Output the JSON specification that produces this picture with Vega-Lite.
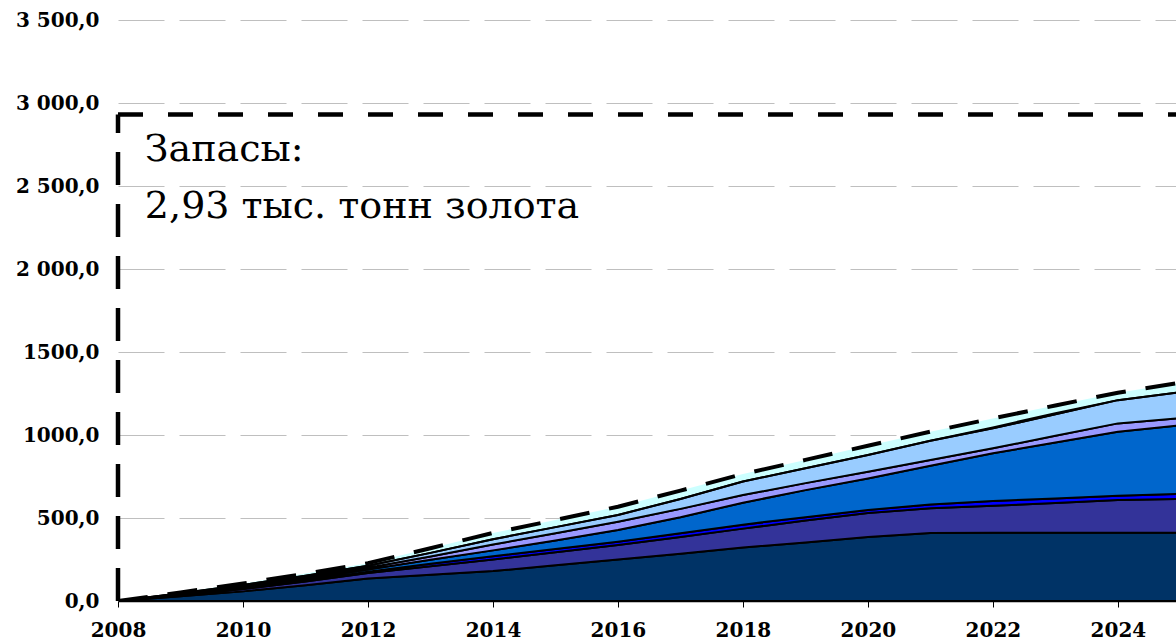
{
  "$schema": "https://vega.github.io/schema/vega-lite/v6.json",
  "width": 1058,
  "height": 581,
  "autosize": {"type": "none"},
  "padding": {"left": 118, "top": 20, "right": 0, "bottom": 41},
  "background": "white",
  "config": {"view": {"stroke": null}, "font": "DejaVu Serif"},
  "datasets": {
    "production": [
      {"year": 2008, "k": 1, "value": 0}, {"year": 2008, "k": 2, "value": 0}, {"year": 2008, "k": 3, "value": 0}, {"year": 2008, "k": 4, "value": 0}, {"year": 2008, "k": 5, "value": 0}, {"year": 2008, "k": 6, "value": 0}, {"year": 2008, "k": 7, "value": 0}, {"year": 2008, "k": 8, "value": 0},
      {"year": 2009, "k": 1, "value": 28}, {"year": 2009, "k": 2, "value": 6}, {"year": 2009, "k": 3, "value": 2}, {"year": 2009, "k": 4, "value": 4}, {"year": 2009, "k": 5, "value": 3}, {"year": 2009, "k": 6, "value": 4}, {"year": 2009, "k": 7, "value": 0}, {"year": 2009, "k": 8, "value": 5},
      {"year": 2010, "k": 1, "value": 58}, {"year": 2010, "k": 2, "value": 14}, {"year": 2010, "k": 3, "value": 4}, {"year": 2010, "k": 4, "value": 8}, {"year": 2010, "k": 5, "value": 6}, {"year": 2010, "k": 6, "value": 7}, {"year": 2010, "k": 7, "value": 0}, {"year": 2010, "k": 8, "value": 8},
      {"year": 2011, "k": 1, "value": 95}, {"year": 2011, "k": 2, "value": 23}, {"year": 2011, "k": 3, "value": 6}, {"year": 2011, "k": 4, "value": 10}, {"year": 2011, "k": 5, "value": 9}, {"year": 2011, "k": 6, "value": 9}, {"year": 2011, "k": 7, "value": 0}, {"year": 2011, "k": 8, "value": 13},
      {"year": 2012, "k": 1, "value": 135}, {"year": 2012, "k": 2, "value": 33}, {"year": 2012, "k": 3, "value": 8}, {"year": 2012, "k": 4, "value": 14}, {"year": 2012, "k": 5, "value": 10}, {"year": 2012, "k": 6, "value": 12}, {"year": 2012, "k": 7, "value": 0}, {"year": 2012, "k": 8, "value": 16},
      {"year": 2013, "k": 1, "value": 158}, {"year": 2013, "k": 2, "value": 52}, {"year": 2013, "k": 3, "value": 14}, {"year": 2013, "k": 4, "value": 24}, {"year": 2013, "k": 5, "value": 20}, {"year": 2013, "k": 6, "value": 22}, {"year": 2013, "k": 7, "value": 0}, {"year": 2013, "k": 8, "value": 28},
      {"year": 2014, "k": 1, "value": 180}, {"year": 2014, "k": 2, "value": 70}, {"year": 2014, "k": 3, "value": 20}, {"year": 2014, "k": 4, "value": 35}, {"year": 2014, "k": 5, "value": 35}, {"year": 2014, "k": 6, "value": 32}, {"year": 2014, "k": 7, "value": 0}, {"year": 2014, "k": 8, "value": 38},
      {"year": 2015, "k": 1, "value": 215}, {"year": 2015, "k": 2, "value": 78}, {"year": 2015, "k": 3, "value": 20}, {"year": 2015, "k": 4, "value": 52}, {"year": 2015, "k": 5, "value": 43}, {"year": 2015, "k": 6, "value": 37}, {"year": 2015, "k": 7, "value": 0}, {"year": 2015, "k": 8, "value": 43},
      {"year": 2016, "k": 1, "value": 250}, {"year": 2016, "k": 2, "value": 87}, {"year": 2016, "k": 3, "value": 20}, {"year": 2016, "k": 4, "value": 71}, {"year": 2016, "k": 5, "value": 50}, {"year": 2016, "k": 6, "value": 40}, {"year": 2016, "k": 7, "value": 0}, {"year": 2016, "k": 8, "value": 50},
      {"year": 2017, "k": 1, "value": 285}, {"year": 2017, "k": 2, "value": 100}, {"year": 2017, "k": 3, "value": 23}, {"year": 2017, "k": 4, "value": 97}, {"year": 2017, "k": 5, "value": 50}, {"year": 2017, "k": 6, "value": 60}, {"year": 2017, "k": 7, "value": 0}, {"year": 2017, "k": 8, "value": 50},
      {"year": 2018, "k": 1, "value": 322}, {"year": 2018, "k": 2, "value": 114}, {"year": 2018, "k": 3, "value": 24}, {"year": 2018, "k": 4, "value": 132}, {"year": 2018, "k": 5, "value": 46}, {"year": 2018, "k": 6, "value": 82}, {"year": 2018, "k": 7, "value": 0}, {"year": 2018, "k": 8, "value": 45},
      {"year": 2019, "k": 1, "value": 352}, {"year": 2019, "k": 2, "value": 133}, {"year": 2019, "k": 3, "value": 20}, {"year": 2019, "k": 4, "value": 163}, {"year": 2019, "k": 5, "value": 42}, {"year": 2019, "k": 6, "value": 90}, {"year": 2019, "k": 7, "value": 0}, {"year": 2019, "k": 8, "value": 50},
      {"year": 2020, "k": 1, "value": 385}, {"year": 2020, "k": 2, "value": 145}, {"year": 2020, "k": 3, "value": 18}, {"year": 2020, "k": 4, "value": 190}, {"year": 2020, "k": 5, "value": 41}, {"year": 2020, "k": 6, "value": 101}, {"year": 2020, "k": 7, "value": 0}, {"year": 2020, "k": 8, "value": 55},
      {"year": 2021, "k": 1, "value": 410}, {"year": 2021, "k": 2, "value": 148}, {"year": 2021, "k": 3, "value": 24}, {"year": 2021, "k": 4, "value": 233}, {"year": 2021, "k": 5, "value": 35}, {"year": 2021, "k": 6, "value": 115}, {"year": 2021, "k": 7, "value": 0}, {"year": 2021, "k": 8, "value": 55},
      {"year": 2022, "k": 1, "value": 411}, {"year": 2022, "k": 2, "value": 163}, {"year": 2022, "k": 3, "value": 28}, {"year": 2022, "k": 4, "value": 288}, {"year": 2022, "k": 5, "value": 30}, {"year": 2022, "k": 6, "value": 120}, {"year": 2022, "k": 7, "value": 6}, {"year": 2022, "k": 8, "value": 54},
      {"year": 2023, "k": 1, "value": 411}, {"year": 2023, "k": 2, "value": 179}, {"year": 2023, "k": 3, "value": 28}, {"year": 2023, "k": 4, "value": 337}, {"year": 2023, "k": 5, "value": 40}, {"year": 2023, "k": 6, "value": 130}, {"year": 2023, "k": 7, "value": 6}, {"year": 2023, "k": 8, "value": 47},
      {"year": 2024, "k": 1, "value": 411}, {"year": 2024, "k": 2, "value": 197}, {"year": 2024, "k": 3, "value": 26}, {"year": 2024, "k": 4, "value": 386}, {"year": 2024, "k": 5, "value": 50}, {"year": 2024, "k": 6, "value": 140}, {"year": 2024, "k": 7, "value": 0}, {"year": 2024, "k": 8, "value": 45},
      {"year": 2025, "k": 1, "value": 411}, {"year": 2025, "k": 2, "value": 204}, {"year": 2025, "k": 3, "value": 30}, {"year": 2025, "k": 4, "value": 413}, {"year": 2025, "k": 5, "value": 44}, {"year": 2025, "k": 6, "value": 156}, {"year": 2025, "k": 7, "value": 0}, {"year": 2025, "k": 8, "value": 57}
    ],
    "reserves": [{"start": 2008, "end": 2025, "zero": 0, "reserves": 2930}],
    "labels": [
      {"x": 2008.43, "y": 2652, "text": "Запасы:"},
      {"x": 2008.43, "y": 2307, "text": "2,93 тыс. тонн золота"}
    ]
  },
  "layer": [
    {
      "data": {"name": "production"},
      "mark": {"type": "area", "color": "#CCFFFF", "clip": true},
      "encoding": {
        "x": {
          "field": "year", "type": "quantitative",
          "scale": {"domain": [2008, 2024.93], "nice": false, "zero": false},
          "axis": {
            "title": null, "values": [2008, 2010, 2012, 2014, 2016, 2018, 2020, 2022, 2024],
            "format": "d", "grid": false, "domain": true, "domainColor": "black", "domainWidth": 1.5,
            "ticks": true, "tickColor": "black", "tickSize": 6, "tickWidth": 1,
            "labelFont": "DejaVu Serif", "labelFontWeight": "bold", "labelFontSize": 20,
            "labelColor": "black", "labelPadding": 13, "labelOverlap": false, "labelFlush": false
          }
        },
        "y": {
          "aggregate": "sum", "field": "value", "type": "quantitative",
          "scale": {"domain": [0, 3500], "nice": false},
          "axis": {
            "title": null, "values": [0, 500, 1000, 1500, 2000, 2500, 3000, 3500],
            "grid": true, "gridColor": "#BFBFBF", "gridDash": [46, 15], "gridWidth": 1,
            "domain": false, "ticks": false, "labelPadding": 19,
            "labelFont": "DejaVu Serif", "labelFontWeight": "bold", "labelFontSize": 20,
            "labelColor": "black",
            "labelExpr": "datum.value >= 2000 ? floor(datum.value / 1000) + ' ' + (datum.value % 1000 == 0 ? '000' : '500') + ',0' : datum.value + ',0'"
          }
        }
      }
    },
    {
      "data": {"name": "production"},
      "transform": [{"filter": "datum.k <= 7"}],
      "mark": {"type": "area", "stroke": "black", "strokeWidth": 2, "strokeJoin": "round", "clip": true},
      "encoding": {
        "x": {"field": "year", "type": "quantitative"},
        "y": {"field": "value", "type": "quantitative", "stack": "zero"},
        "color": {
          "field": "k", "type": "nominal", "legend": null,
          "scale": {"domain": [1, 2, 3, 4, 5, 6, 7], "range": ["#003366", "#333399", "#0000FF", "#0066CC", "#9999FF", "#99CCFF", "#FFFFFF"]}
        },
        "order": {"field": "k", "type": "quantitative"}
      }
    },
    {
      "data": {"name": "production"},
      "mark": {"type": "line", "color": "black", "strokeWidth": 4, "strokeDash": [30, 20], "clip": true},
      "encoding": {
        "x": {"field": "year", "type": "quantitative"},
        "y": {"aggregate": "sum", "field": "value", "type": "quantitative"}
      }
    },
    {
      "data": {"name": "reserves"},
      "mark": {"type": "rule", "color": "black", "strokeWidth": 4.5, "strokeDash": [33, 19]},
      "encoding": {
        "x": {"field": "start", "type": "quantitative"},
        "y": {"field": "zero", "type": "quantitative"},
        "y2": {"field": "reserves"}
      }
    },
    {
      "data": {"name": "reserves"},
      "mark": {"type": "rule", "color": "black", "strokeWidth": 4.5, "strokeDash": [25, 25]},
      "encoding": {
        "x": {"field": "start", "type": "quantitative"},
        "x2": {"field": "end"},
        "y": {"field": "reserves", "type": "quantitative"}
      }
    },
    {
      "data": {"name": "labels"},
      "mark": {"type": "text", "align": "left", "baseline": "alphabetic", "font": "DejaVu Serif", "fontSize": 38, "color": "black"},
      "encoding": {
        "x": {"field": "x", "type": "quantitative"},
        "y": {"field": "y", "type": "quantitative"},
        "text": {"field": "text"}
      }
    }
  ]
}
